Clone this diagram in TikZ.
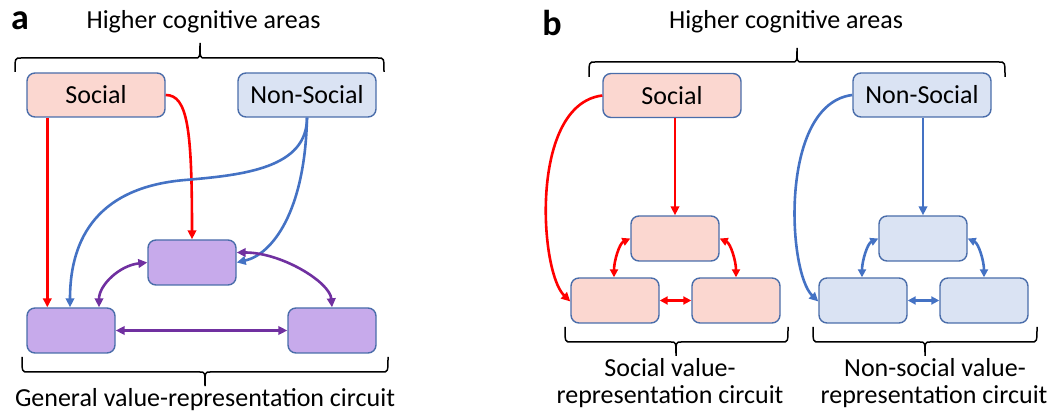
\documentclass[tikz,border=0pt]{standalone}
\usepackage{fontspec}
\setmainfont{Carlito}
\usetikzlibrary{arrows.meta}
\definecolor{pinkfill}{HTML}{FBD7D0}
\definecolor{bluefill}{HTML}{DAE3F3}
\definecolor{lavfill}{HTML}{C7AAEB}
\definecolor{boxedge}{HTML}{4A6DAA}
\definecolor{redc}{HTML}{FF0000}
\definecolor{bluec}{HTML}{4472C4}
\definecolor{purc}{HTML}{7030A0}
\tikzset{
  box/.style={draw=boxedge, line width=1.4pt, rounded corners=8pt, minimum width=138pt, minimum height=44pt, inner sep=0pt, font=\fontsize{26}{30}\selectfont},
  sbox/.style={draw=boxedge, line width=1.4pt, rounded corners=8pt, minimum width=88pt, minimum height=45pt, inner sep=0pt},
  lbl/.style={font=\fontsize{26}{30}\selectfont, inner sep=0pt, anchor=base},
  panel/.style={font=\fontsize{36}{40}\selectfont\bfseries, inner sep=0pt, anchor=base},
  brc/.style={draw=black, line width=1.5pt},
  conn/.style={line width=2.6pt, -{Triangle[length=9pt,width=8.5pt]}},
  dconn/.style={line width=2.6pt, {Triangle[length=9pt,width=8.5pt]}-{Triangle[length=9pt,width=8.5pt]}},
  dconnb/.style={line width=2.6pt, {Triangle[length=8pt,width=8pt]}-{Triangle[length=8pt,width=8pt]}},
}
% brace: x1, x2, xtip, yend, yline, ytip
\newcommand{\hbracepath}[6]{%
  \draw[brc] (#1,#4) .. controls (#1,#5) .. (#1+6,#5) -- (#3-5,#5)
    .. controls (#3,#5) .. (#3,#6) .. controls (#3,#5) .. (#3+5,#5)
    -- (#2-6,#5) .. controls (#2,#5) .. (#2,#4);}
\begin{document}
\begin{tikzpicture}[x=1pt,y=-1pt]
\useasboundingbox (0,0) rectangle (1053,419);
% ---------- panel a ----------
\node[panel] (la) at (20,30) {a};
\node[lbl] (ha) at (203.5,29) {Higher cognitive areas};
\hbracepath{15}{384}{200}{72}{58}{43}
\node[box, fill=pinkfill] (sa) at (96,95) {Social};
\node[box, fill=bluefill] (na) at (307,95) {Non-Social};
\node[sbox, fill=lavfill] (pm) at (192,262.5) {};
\node[sbox, fill=lavfill] (pl) at (71,330.5) {};
\node[sbox, fill=lavfill] (pr) at (332,330.5) {};
\hbracepath{22}{388}{205}{357}{372}{386}
\node[lbl] (ga) at (205,407) {General value-representation circuit};
% arrows a
\draw[conn, redc] ([xshift=21pt]sa.south west) -- ([xshift=21pt]pl.north west);
\draw[conn, redc] (sa.east) .. controls +(22,0) and +(0,-110) .. (pm.north);
\draw[conn, bluec] (na.south) .. controls +(0,50) and +(60,-5) .. (185,180) .. controls +(-95,8) and +(0,-60) .. ([xshift=-1pt]pl.north);
\draw[conn, bluec] (na.south) .. controls +(-2,95) and +(35,-8) .. (pm.east);
\draw[dconn, purc] (pm.west) .. controls +(-28,3) and +(0,-22) .. ([xshift=28pt]pl.north);
\draw[dconn, purc] ([yshift=10pt]pm.east) .. controls +(45,0) and +(-2,-25) .. (pr.north);
\draw[dconn, purc] (pl.east) -- (pr.west);
% ---------- panel b ----------
\node[panel] (lb) at (552,36) {b};
\node[lbl] (hb) at (786,29) {Higher cognitive areas};
\hbracepath{589}{1005}{797}{77}{62}{48}
\node[box, fill=pinkfill] (sb) at (672,95.5) {Social};
\node[box, fill=bluefill] (nb) at (922,95) {Non-Social};
% social circuit
\node[sbox, fill=pinkfill] (st) at (675,238.5) {};
\node[sbox, fill=pinkfill] (sl) at (615,300.5) {};
\node[sbox, fill=pinkfill] (sr) at (736,300.5) {};
% non-social circuit
\node[sbox, fill=bluefill] (nt) at (923,238.5) {};
\node[sbox, fill=bluefill] (nl) at (863,300.5) {};
\node[sbox, fill=bluefill] (nr) at (984,300.5) {};
\hbracepath{565}{788}{676}{327}{342}{356}
\hbracepath{813}{1037}{925}{327}{342}{356}
\node[lbl] (ts1) at (670,377) {Social value-};
\node[lbl] (ts2) at (670,404) {representation circuit};
\node[lbl] (tn1) at (935,377) {Non-social value-};
\node[lbl] (tn2) at (934,404) {representation circuit};
% arrows b social
\draw[conn, redc] (sb.south -| st.north) -- (st.north);
\draw[conn, redc] (sb.west) .. controls +(-73,9) and +(-31,-30) .. ([yshift=-1pt]sl.west);
\draw[dconnb, redc] (st.west) .. controls +(-11,5) and +(0,-16) .. ([xshift=-1pt]sl.north);
\draw[dconnb, redc] (st.east) .. controls +(11,5) and +(0,-16) .. (sr.north);
\draw[dconnb, redc] (sl.east) -- (sr.west);
% arrows b non-social
\draw[conn, bluec] (nb.south -| nt.north) -- (nt.north);
\draw[conn, bluec] (nb.west) .. controls +(-73,9) and +(-31,-30) .. ([yshift=-1pt]nl.west);
\draw[dconnb, bluec] (nt.west) .. controls +(-11,5) and +(0,-16) .. ([xshift=-1pt]nl.north);
\draw[dconnb, bluec] (nt.east) .. controls +(11,5) and +(0,-16) .. (nr.north);
\draw[dconnb, bluec] (nl.east) -- (nr.west);
\end{tikzpicture}
\end{document}
